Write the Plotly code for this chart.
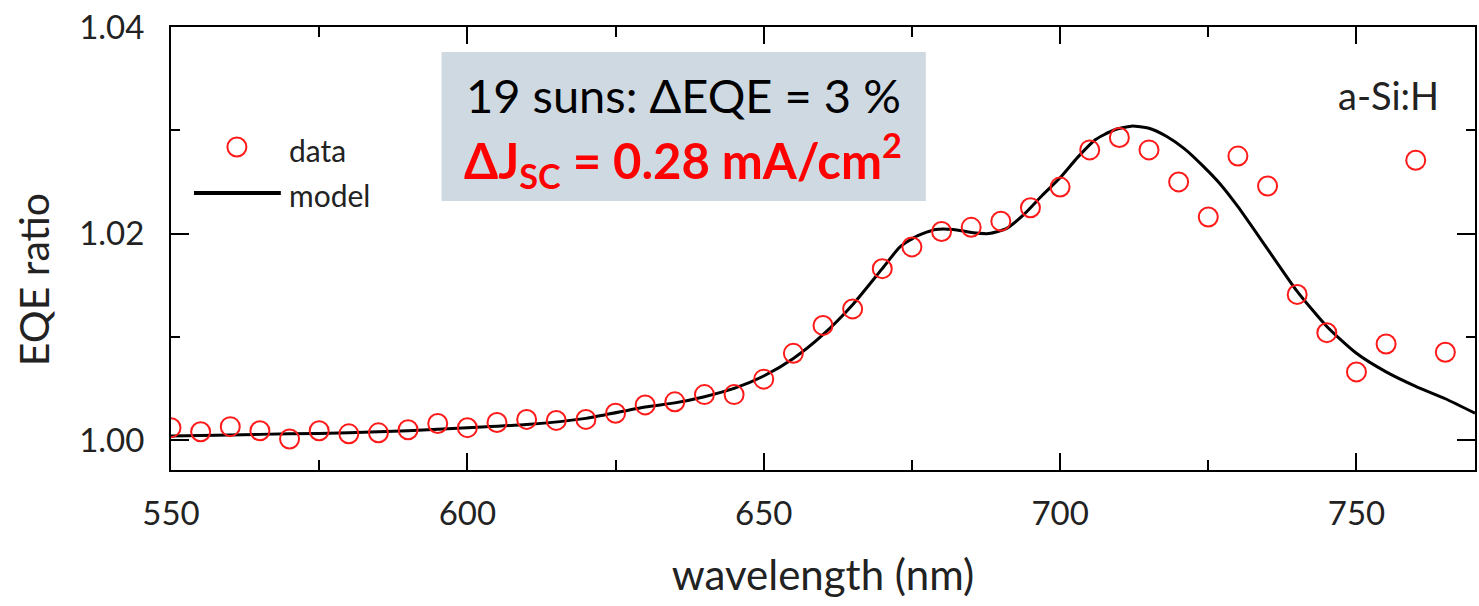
import plotly.graph_objects as go

# ---------------- data ----------------
data_wl = [550, 555, 560, 565, 570, 575, 580, 585, 590, 595, 600, 605, 610, 615, 620,
           625, 630, 635, 640, 645, 650, 655, 660, 665, 670, 675, 680, 685, 690, 695,
           700, 705, 710, 715, 720, 725, 730, 735, 740, 745, 750, 755, 760, 765]
data_ratio = [1.0012, 1.0008, 1.0013, 1.0009, 1.0001, 1.0009, 1.0006, 1.0007, 1.0010, 1.0016,
              1.0012, 1.0017, 1.0020, 1.0019, 1.0020, 1.0026, 1.0034, 1.0037, 1.0044, 1.0044,
              1.0059, 1.0084, 1.0111, 1.0127, 1.0166, 1.0187, 1.0202, 1.0206, 1.0212, 1.0225,
              1.0245, 1.0281, 1.0293, 1.0281, 1.0250, 1.0216, 1.0275, 1.0246, 1.0141, 1.0104,
              1.0066, 1.0093, 1.0271, 1.0085]

model_wl = [550, 560, 570, 580, 590, 600, 610, 620, 630, 635, 640, 645, 650, 655, 660,
            665, 670, 673, 676, 679, 682, 685, 688, 691, 694, 697, 700, 703, 706, 709,
            712, 715, 718, 721, 724, 727, 730, 735, 740, 745, 750, 755, 760, 765, 770]
model_ratio = [1.0004, 1.0005, 1.0006, 1.0007, 1.0009, 1.0012, 1.0015, 1.0021, 1.0032, 1.0036,
               1.0042, 1.0050, 1.0062, 1.0079, 1.0102, 1.0131, 1.0166, 1.0187, 1.0198, 1.0204,
               1.0204, 1.0201, 1.0200, 1.0205, 1.0219, 1.0237, 1.0254, 1.0274, 1.0291, 1.0300,
               1.0304, 1.0302, 1.0294, 1.0282, 1.0266, 1.0248, 1.0226, 1.0185, 1.0144, 1.0110,
               1.0084, 1.0066, 1.0052, 1.0040, 1.0026]

x_range = [550, 770]
y_range = [0.9971, 1.04]
x_title = "wavelength (nm)"
y_title = "EQE ratio"
box_line1 = "19 suns: ΔEQE = 3 %"
box_line2 = "<b>ΔJ<sub>SC</sub> = 0.28 mA/cm<sup>2</sup></b>"
sample_label = "a-Si:H"
legend_labels = ["data", "model"]

# ---------------- layout geometry ----------------
W, H = 1479, 606
L, R, T, B = 171, 2, 27, 136
PW, PH = W - L - R, H - T - B
FONT = "Lato"
TXT = "#222222"


def px(x):
    return (x - L) / PW


def py(y):
    return (H - B - y) / PH


fig = go.Figure()

fig.add_trace(go.Scatter(
    x=model_wl, y=model_ratio, mode="lines", name=legend_labels[1],
    line=dict(color="black", width=3, shape="spline", smoothing=0.6),
    showlegend=False,
))
fig.add_trace(go.Scatter(
    x=data_wl, y=data_ratio, mode="markers", name=legend_labels[0],
    marker=dict(symbol="circle-open", size=19, color="#ff1a1a",
                line=dict(width=2, color="#ff1a1a")),
    showlegend=False,
))

axis_common = dict(
    showgrid=False, zeroline=False, showline=True, linecolor="black", linewidth=2,
    ticks="inside", tickcolor="black", tickwidth=2, mirror="allticks",
    tickfont=dict(family=FONT, size=33, color=TXT),
)

fig.update_xaxes(
    range=x_range, tick0=550, dtick=50, ticklen=17,
    minor=dict(dtick=25, ticklen=10, tickwidth=2, tickcolor="black", ticks="inside"),
    ticklabelstandoff=13,
    title=dict(text=x_title, font=dict(family=FONT, size=42, color=TXT), standoff=30),
    **axis_common,
)
fig.update_yaxes(
    range=y_range, tick0=1.0, dtick=0.02, tickformat=".2f", ticklen=18,
    minor=dict(dtick=0.01, tick0=1.0, ticklen=9, tickwidth=2, tickcolor="black", ticks="inside"),
    ticklabelstandoff=18,
    **axis_common,
)

shapes = [
    # info box
    dict(type="rect", xref="paper", yref="paper", x0=px(442), x1=px(927), y0=py(201), y1=py(52),
         fillcolor="#CED9E2", line=dict(width=0), layer="above"),
    # legend line sample
    dict(type="line", xref="paper", yref="paper", x0=px(194), x1=px(281), y0=py(193), y1=py(193),
         line=dict(color="black", width=4)),
]

annotations = [
    dict(xref="paper", yref="paper", x=px(33), y=py(280), xanchor="center", yanchor="middle",
         text=y_title, textangle=-90, showarrow=False,
         font=dict(family=FONT, size=41, color=TXT)),
    dict(xref="paper", yref="paper", x=px(464), y=py(95), xanchor="left", yanchor="middle",
         text=box_line1, showarrow=False, font=dict(family=FONT, size=47, color="black")),
    dict(xref="paper", yref="paper", x=px(462), y=py(160), xanchor="left", yanchor="middle",
         text=box_line2, showarrow=False, font=dict(family=FONT, size=49, color="#ff0000")),
    dict(xref="paper", yref="paper", x=px(1443), y=py(95), xanchor="right", yanchor="middle",
         text=sample_label, showarrow=False, font=dict(family=FONT, size=38, color=TXT)),
    dict(xref="paper", yref="paper", x=px(287), y=py(150), xanchor="left", yanchor="middle",
         text=legend_labels[0], showarrow=False, font=dict(family=FONT, size=30, color=TXT)),
    dict(xref="paper", yref="paper", x=px(287), y=py(195), xanchor="left", yanchor="middle",
         text=legend_labels[1], showarrow=False, font=dict(family=FONT, size=30, color=TXT)),
]

fig.update_layout(
    width=W, height=H,
    margin=dict(l=L, r=R, t=T, b=B, pad=0),
    paper_bgcolor="white", plot_bgcolor="white",
    showlegend=False,
    shapes=shapes, annotations=annotations,
)

# legend marker sample (a visual key, drawn in paper coordinates)
fig.add_trace(go.Scatter(
    x=[px(237)], y=[py(147)], xaxis="x2", yaxis="y2", mode="markers",
    marker=dict(symbol="circle-open", size=19, color="#ff1a1a", line=dict(width=2, color="#ff1a1a")),
    showlegend=False, hoverinfo="skip", cliponaxis=False,
))
fig.update_layout(
    xaxis2=dict(overlaying="x", range=[0, 1], visible=False, anchor="y2"),
    yaxis2=dict(overlaying="y", range=[0, 1], visible=False, anchor="x2"),
)

fig.write_html("out.html")
